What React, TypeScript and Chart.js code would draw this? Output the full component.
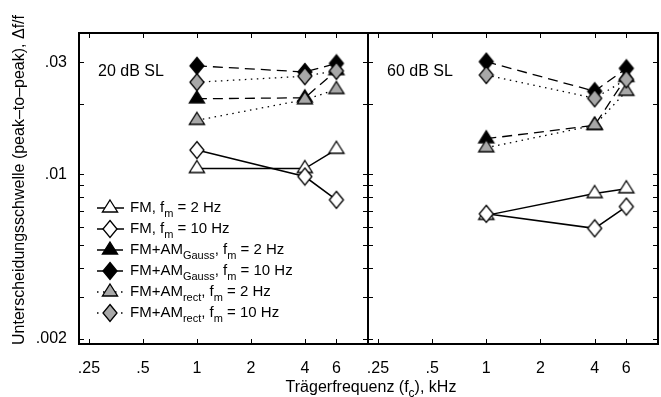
import React, { useEffect, useRef } from 'react';
import { Chart, registerables } from 'chart.js';

Chart.register(...registerables);

const FONT = "'Liberation Sans', Arial, Helvetica, sans-serif";

// ---------- data ----------
const carrierFreqs = [1, 4, 6];
const xTickValues = [0.25, 0.5, 1, 2, 4, 6];
const xTickLabels = ['.25', '.5', '1', '2', '4', '6'];
const yTickValues = [0.002, 0.003, 0.004, 0.005, 0.006, 0.007, 0.008, 0.009, 0.01, 0.02, 0.03];
const yTickLabels = ['.002', '', '', '', '', '', '', '', '.01', '', '.03'];
const xRange = [0.22, 9];
const yRange = [0.0019, 0.04];

// 20 dB SL
const fm2Hz_20 = [0.0106, 0.0106, 0.0128];
const fm10Hz_20 = [0.0127, 0.0098, 0.0078];
const gauss2Hz_20 = [0.0210, 0.0212, 0.0277];
const gauss10Hz_20 = [0.0290, 0.0273, 0.0297];
const rect2Hz_20 = [0.0170, 0.0208, 0.0230];
const rect10Hz_20 = [0.0247, 0.0262, 0.0276];

// 60 dB SL
const fm2Hz_60 = [0.0067, 0.0083, 0.0087];
const fm10Hz_60 = [0.0068, 0.0059, 0.0073];
const gauss2Hz_60 = [0.0142, 0.0162, 0.0259];
const gauss10Hz_60 = [0.0302, 0.0226, 0.0283];
const rect2Hz_60 = [0.0130, 0.0162, 0.0226];
const rect10Hz_60 = [0.0265, 0.0211, 0.0254];

const panelTitles = ['20 dB SL', '60 dB SL'];
const yAxisTitle = 'Unterscheidungsschwelle (peak–to–peak), Δf/f';
const xAxisTitle = [{ t: 'Trägerfrequenz (f' }, { t: 'c', sub: true }, { t: '), kHz' }];

const seriesNames = [
  'FM, fm = 2 Hz',
  'FM, fm = 10 Hz',
  'FM+AM Gauss, fm = 2 Hz',
  'FM+AM Gauss, fm = 10 Hz',
  'FM+AM rect, fm = 2 Hz',
  'FM+AM rect, fm = 10 Hz',
];
const legendLabels = [
  [{ t: 'FM, f' }, { t: 'm', sub: true }, { t: ' = 2 Hz' }],
  [{ t: 'FM, f' }, { t: 'm', sub: true }, { t: ' = 10 Hz' }],
  [{ t: 'FM+AM' }, { t: 'Gauss', sub: true }, { t: ', f' }, { t: 'm', sub: true }, { t: ' = 2 Hz' }],
  [{ t: 'FM+AM' }, { t: 'Gauss', sub: true }, { t: ', f' }, { t: 'm', sub: true }, { t: ' = 10 Hz' }],
  [{ t: 'FM+AM' }, { t: 'rect', sub: true }, { t: ', f' }, { t: 'm', sub: true }, { t: ' = 2 Hz' }],
  [{ t: 'FM+AM' }, { t: 'rect', sub: true }, { t: ', f' }, { t: 'm', sub: true }, { t: ' = 10 Hz' }],
];

const seriesStyles = [
  { marker: 'tri', fill: '#ffffff', dash: [] as number[], width: 1.5 },
  { marker: 'dia', fill: '#ffffff', dash: [] as number[], width: 1.5 },
  { marker: 'tri', fill: '#000000', dash: [10, 6], width: 1.3 },
  { marker: 'dia', fill: '#000000', dash: [10, 6], width: 1.3 },
  { marker: 'tri', fill: '#a8a8a8', dash: [1.5, 4.5], width: 1.3 },
  { marker: 'dia', fill: '#a8a8a8', dash: [1.5, 4.5], width: 1.3 },
];

// ---------- helpers ----------
function makeMarker(kind: string, fill: string) {
  const c = document.createElement('canvas');
  c.width = 20;
  c.height = 20;
  const g = c.getContext('2d')!;
  g.beginPath();
  if (kind === 'tri') {
    g.moveTo(10, 2);
    g.lineTo(17.6, 14);
    g.lineTo(2.4, 14);
  } else {
    g.moveTo(10, 1.5);
    g.lineTo(17, 10);
    g.lineTo(10, 18.5);
    g.lineTo(3, 10);
  }
  g.closePath();
  g.fillStyle = fill;
  g.fill();
  g.lineWidth = 1.3;
  g.lineJoin = 'miter';
  g.strokeStyle = '#000';
  g.stroke();
  return c;
}

type Seg = { t: string; sub?: boolean };

function drawRich(
  ctx: CanvasRenderingContext2D,
  segs: Seg[],
  x: number,
  y: number,
  size: number,
  subSize: number,
  subDy: number,
  align: 'left' | 'center'
) {
  const fontMain = `${size}px ${FONT}`;
  const fontSub = `${subSize}px ${FONT}`;
  let total = 0;
  const widths = segs.map((s) => {
    ctx.font = s.sub ? fontSub : fontMain;
    const w = ctx.measureText(s.t).width;
    total += w;
    return w;
  });
  let cx = align === 'center' ? x - total / 2 : x;
  ctx.textAlign = 'left';
  ctx.textBaseline = 'alphabetic';
  ctx.fillStyle = '#000';
  segs.forEach((s, i) => {
    ctx.font = s.sub ? fontSub : fontMain;
    ctx.fillText(s.t, cx, s.sub ? y + subDy : y);
    cx += widths[i];
  });
}

const framePlugin = {
  id: 'panelFrame',
  afterDatasetsDraw(chart: any) {
    const ctx: CanvasRenderingContext2D = chart.ctx;
    const a = chart.chartArea;
    const xs = chart.scales.x;
    const ys = chart.scales.y;
    const L = a.left;
    const T = a.top;
    const R = a.right;
    const B = a.bottom;
    ctx.save();
    ctx.setLineDash([]);
    ctx.globalAlpha = 1;
    ctx.strokeStyle = 'rgb(0,0,0)';
    ctx.lineWidth = 2;
    ctx.beginPath();
    ctx.moveTo(L, T);
    ctx.lineTo(R, T);
    ctx.lineTo(R, B);
    ctx.lineTo(L, B);
    ctx.closePath();
    ctx.stroke();
    ctx.lineWidth = 1;
    ctx.beginPath();
    for (const v of xTickValues) {
      const px = Math.round(xs.getPixelForValue(v)) + 0.5;
      ctx.moveTo(px, B);
      ctx.lineTo(px, B - 5);
      ctx.moveTo(px, T);
      ctx.lineTo(px, T + 5);
    }
    for (const v of yTickValues) {
      const py = Math.round(ys.getPixelForValue(v)) + 0.5;
      ctx.moveTo(L, py);
      ctx.lineTo(L + 5, py);
      ctx.moveTo(R, py);
      ctx.lineTo(R - 5, py);
    }
    ctx.stroke();
    ctx.restore();
  },
};

const decorPlugin = {
  id: 'panelDecor',
  afterDraw(chart: any, _args: any, opts: any) {
    const ctx: CanvasRenderingContext2D = chart.ctx;
    const a = chart.chartArea;
    ctx.save();
    ctx.fillStyle = '#000';
    ctx.font = `16px ${FONT}`;
    ctx.textAlign = 'left';
    ctx.textBaseline = 'alphabetic';
    ctx.fillText(opts.title, a.left + 19, a.top + 43);

    if (opts.legend) {
      const markers = opts.markers as HTMLCanvasElement[];
      legendLabels.forEach((segs, i) => {
        const base = 212 + i * 21;
        const my = base - 4;
        const st = seriesStyles[i];
        ctx.save();
        ctx.strokeStyle = '#000';
        ctx.lineWidth = st.width;
        ctx.setLineDash(st.dash);
        ctx.beginPath();
        ctx.moveTo(a.left + 18, my);
        ctx.lineTo(a.left + 45, my);
        ctx.stroke();
        ctx.restore();
        ctx.drawImage(markers[i], a.left + 31 - 10, my - 10, 20, 20);
        drawRich(ctx, segs, a.left + 51, base, 15, 11, 5, 'left');
      });
    }

    if (opts.axisTitles) {
      ctx.save();
      ctx.translate(24, 180);
      ctx.rotate(-Math.PI / 2);
      ctx.font = `16px ${FONT}`;
      ctx.textAlign = 'center';
      ctx.textBaseline = 'alphabetic';
      ctx.fillStyle = '#000';
      ctx.fillText(yAxisTitle, 0, 0);
      ctx.restore();
      drawRich(ctx, xAxisTitle, 371, 392, 16, 12, 5, 'center');
    }
    ctx.restore();
  },
};

function buildConfig(series: number[][], isLeft: boolean, markers: HTMLCanvasElement[], padding: any) {
  const datasets = series.map((vals, i) => ({
    label: seriesNames[i],
    data: carrierFreqs.map((x, j) => ({ x, y: vals[j] })),
    borderColor: '#000',
    backgroundColor: seriesStyles[i].fill,
    borderWidth: seriesStyles[i].width,
    borderDash: seriesStyles[i].dash,
    pointStyle: markers[i],
    pointRadius: 9,
    pointHoverRadius: 9,
    tension: 0,
    fill: false,
    order: series.length - 1 - i,
  }));
  return {
    type: 'line',
    data: { datasets },
    plugins: [framePlugin, decorPlugin],
    options: {
      animation: false,
      responsive: false,
      devicePixelRatio: 1,
      events: [],
      layout: { padding, autoPadding: false },
      plugins: {
        legend: { display: false },
        tooltip: { enabled: false },
        panelDecor: { title: isLeft ? panelTitles[0] : panelTitles[1], legend: isLeft, axisTitles: isLeft, markers },
      },
      scales: {
        x: {
          type: 'logarithmic',
          min: xRange[0],
          max: xRange[1],
          bounds: 'data',
          afterBuildTicks: (s: any) => {
            s.ticks = xTickValues.map((v) => ({ value: v }));
          },
          afterFit: (s: any) => {
            s.height = 53;
            s.paddingLeft = 0;
            s.paddingRight = 0;
          },
          grid: { display: false },
          border: { display: false },
          ticks: {
            autoSkip: false,
            maxRotation: 0,
            minRotation: 0,
            padding: 7,
            color: '#000',
            font: { size: 16, family: FONT },
            callback: (v: number) => {
              const k = xTickValues.indexOf(v);
              return k >= 0 ? xTickLabels[k] : '';
            },
          },
        },
        y: {
          type: 'logarithmic',
          display: isLeft,
          min: yRange[0],
          max: yRange[1],
          bounds: 'data',
          afterBuildTicks: (s: any) => {
            s.ticks = yTickValues.map((v) => ({ value: v }));
          },
          afterFit: (s: any) => {
            s.width = isLeft ? 79 : 0;
            s.paddingTop = 0;
            s.paddingBottom = 0;
          },
          grid: { display: false },
          border: { display: false },
          ticks: {
            autoSkip: false,
            padding: 4,
            color: '#000',
            font: { size: 16, family: FONT },
            callback: (v: number) => {
              const k = yTickValues.indexOf(v);
              return k >= 0 ? yTickLabels[k] : '';
            },
          },
        },
      },
    },
  };
}

export default function App() {
  const leftRef = useRef<HTMLCanvasElement>(null);
  const rightRef = useRef<HTMLCanvasElement>(null);

  useEffect(() => {
    Chart.defaults.font.family = FONT;
    const markers = seriesStyles.map((s) => makeMarker(s.marker, s.fill));
    const left = new Chart(
      leftRef.current!,
      buildConfig(
        [fm2Hz_20, fm10Hz_20, gauss2Hz_20, gauss10Hz_20, rect2Hz_20, rect10Hz_20],
        true,
        markers,
        { top: 33, right: 661 - 368, bottom: 0, left: 0 }
      ) as any
    );
    const right = new Chart(
      rightRef.current!,
      buildConfig(
        [fm2Hz_60, fm10Hz_60, gauss2Hz_60, gauss10Hz_60, rect2Hz_60, rect10Hz_60],
        false,
        markers,
        { top: 33, right: 3, bottom: 0, left: 8 }
      ) as any
    );
    return () => {
      left.destroy();
      right.destroy();
    };
  }, []);

  return (
    <div style={{ position: 'fixed', left: 0, top: 0, width: 661, height: 397, background: '#fff' }}>
      <canvas
        ref={leftRef}
        width={661}
        height={397}
        style={{ position: 'absolute', left: 0, top: 0, width: 661, height: 397 }}
      />
      <canvas
        ref={rightRef}
        width={301}
        height={397}
        style={{ position: 'absolute', left: 360, top: 0, width: 301, height: 397 }}
      />
    </div>
  );
}
